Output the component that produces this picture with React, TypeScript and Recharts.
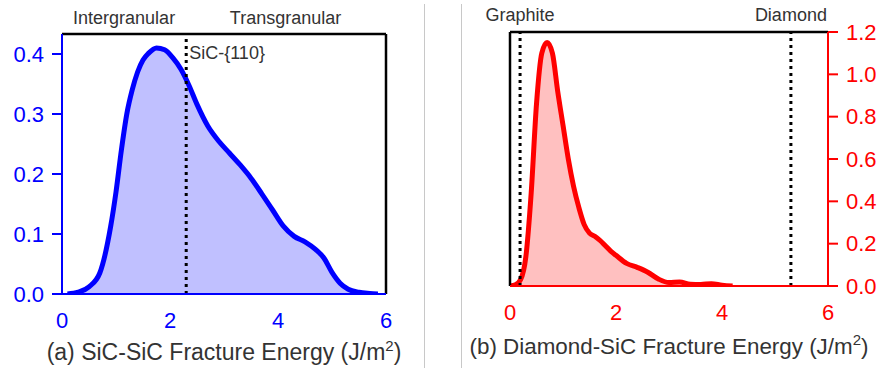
import React from 'react';
import { ComposedChart, Area, XAxis, YAxis, ReferenceLine, Label } from 'recharts';

// ---- Data: (a) SiC-SiC fracture energy density ----
const sicEnergy = [0.1, 0.3, 0.5, 0.7, 0.9, 1.0, 1.1, 1.2, 1.3, 1.4, 1.5, 1.6, 1.75, 1.9, 2.05, 2.2, 2.35, 2.5, 2.7, 2.9, 3.1, 3.3, 3.5, 3.7, 3.9, 4.1, 4.3, 4.5, 4.7, 4.85, 5.0, 5.15, 5.3, 5.5, 5.7, 5.85];
const sicDensity = [0, 0.003, 0.012, 0.035, 0.112, 0.17, 0.24, 0.3, 0.34, 0.37, 0.39, 0.401, 0.41, 0.407, 0.394, 0.375, 0.348, 0.316, 0.28, 0.255, 0.235, 0.215, 0.193, 0.167, 0.14, 0.113, 0.096, 0.087, 0.074, 0.06, 0.036, 0.018, 0.008, 0.003, 0.001, 0];

// ---- Data: (b) Diamond-SiC fracture energy density ----
const diamondEnergy = [0, 0.1, 0.2, 0.3, 0.4, 0.5, 0.6, 0.7, 0.8, 0.9, 1.0, 1.1, 1.2, 1.3, 1.4, 1.5, 1.6, 1.7, 1.8, 1.9, 2.0, 2.2, 2.4, 2.6, 2.8, 3.0, 3.2, 3.4, 3.6, 3.8, 4.0, 4.2];
const diamondDensity = [0, 0.005, 0.03, 0.14, 0.44, 0.86, 1.1, 1.15, 1.1, 0.92, 0.76, 0.6, 0.47, 0.37, 0.29, 0.25, 0.235, 0.215, 0.19, 0.165, 0.145, 0.107, 0.088, 0.065, 0.033, 0.016, 0.019, 0.008, 0.007, 0.011, 0.004, 0];

const xTicks = [0, 2, 4, 6];
const sicYTicks = [0, 0.1, 0.2, 0.3, 0.4];
const diamondYTicks = [0, 0.2, 0.4, 0.6, 0.8, 1.0, 1.2];
const sicYMax = 0.4333;
const diamondYMax = 1.2;
const sicPlane = 2.3;
const graphiteEnergy = 0.19;
const diamondRefEnergy = 5.3;

const sicData = sicEnergy.map((x, i) => ({ x, y: sicDensity[i] }));
const diamondData = diamondEnergy.map((x, i) => ({ x, y: diamondDensity[i] }));

const BLUE = '#0000ff';
const RED = '#ff0000';
const TXT = '#333333';
const FONT = '"Liberation Sans", Arial, Helvetica, sans-serif';

const tickStyle = (c: string) => ({ fill: c, fontSize: 22, fontFamily: FONT });

const makeTitle = (prefix: string, dyBase: number, size: number) => (props: any) => {
  const vb = props.viewBox || {};
  const cx = vb.x + vb.width / 2;
  const y = vb.y + dyBase;
  return (
    <text x={cx} y={y} textAnchor="middle" fill={TXT} fontSize={size} fontFamily={FONT}>
      {prefix + ' Fracture Energy (J/m'}
      <tspan dy={-9} fontSize={15}>2</tspan>
      <tspan dy={9}>)</tspan>
    </text>
  );
};

const TitleA = makeTitle('(a) SiC-SiC', 66, 23);
const TitleB = makeTitle('(b) Diamond-SiC', 68, 22.4);

const RegionLabels = (props: any) => {
  const vb = props.viewBox || {};
  const y = vb.y - 10;
  return (
    <g>
      <text x={vb.x + vb.width * (1.15 / 6)} y={y} textAnchor="middle" fill={TXT} fontSize={18} fontFamily={FONT}>Intergranular</text>
      <text x={vb.x + vb.width * (4.14 / 6)} y={y} textAnchor="middle" fill={TXT} fontSize={18} fontFamily={FONT}>Transgranular</text>
    </g>
  );
};

const PlaneLabel = (props: any) => {
  const vb = props.viewBox || {};
  return (
    <text x={vb.x + 3} y={vb.y + 25} textAnchor="start" fill={TXT} fontSize={18} fontFamily={FONT}>SiC-{'{110}'}</text>
  );
};

const makeTopLabel = (txt: string) => (props: any) => {
  const vb = props.viewBox || {};
  return (
    <text x={vb.x} y={vb.y - 11} textAnchor="middle" fill={TXT} fontSize={18} fontFamily={FONT}>{txt}</text>
  );
};
const GraphiteLabel = makeTopLabel('Graphite');
const DiamondLabel = makeTopLabel('Diamond');

export default function App() {
  return (
    <div style={{ position: 'absolute', left: 0, top: 0, width: 878, height: 368, background: '#fff', overflow: 'hidden' }}>
      <div style={{ position: 'absolute', left: 0, top: 0 }}>
        <ComposedChart width={440} height={368} data={sicData} margin={{ top: 34, right: 54, bottom: 0, left: 0 }}>
          <XAxis
            dataKey="x"
            type="number"
            domain={[0, 6]}
            ticks={xTicks}
            allowDataOverflow
            height={74}
            axisLine={{ stroke: BLUE, strokeWidth: 2 }}
            tickLine={false}
            tickSize={0}
            tickMargin={18}
            tick={tickStyle(BLUE)}
          >
            <Label content={TitleA} />
          </XAxis>
          <YAxis
            type="number"
            domain={[0, sicYMax]}
            ticks={sicYTicks}
            allowDataOverflow
            width={62}
            axisLine={{ stroke: BLUE, strokeWidth: 2 }}
            tickLine={{ stroke: BLUE, strokeWidth: 2 }}
            tickSize={10}
            tickMargin={8}
            tick={tickStyle(BLUE)}
            tickFormatter={(v: number) => v.toFixed(1)}
          />
          <Area
            dataKey="y"
            type="monotone"
            stroke={BLUE}
            strokeWidth={5}
            fill="#c0c0ff"
            fillOpacity={1}
            dot={false}
            activeDot={false}
            isAnimationActive={false}
          />
          <ReferenceLine x={6} stroke="#000" strokeWidth={2.5} />
          <ReferenceLine y={sicYMax} stroke="#000" strokeWidth={2.5}>
            <Label content={RegionLabels} />
          </ReferenceLine>
          <ReferenceLine x={sicPlane} stroke="#000" strokeWidth={3} strokeDasharray="3 4">
            <Label content={PlaneLabel} />
          </ReferenceLine>
        </ComposedChart>
      </div>
      <div style={{ position: 'absolute', left: 440, top: 0 }}>
        <ComposedChart width={438} height={368} data={diamondData} margin={{ top: 32, right: 0, bottom: 0, left: 70 }}>
          <XAxis
            dataKey="x"
            type="number"
            domain={[0, 6]}
            ticks={xTicks}
            allowDataOverflow
            height={82}
            axisLine={{ stroke: RED, strokeWidth: 2 }}
            tickLine={false}
            tickSize={0}
            tickMargin={18}
            tick={tickStyle(RED)}
          >
            <Label content={TitleB} />
          </XAxis>
          <YAxis
            orientation="right"
            type="number"
            domain={[0, diamondYMax]}
            ticks={diamondYTicks}
            allowDataOverflow
            width={50}
            axisLine={{ stroke: RED, strokeWidth: 2 }}
            tickLine={{ stroke: RED, strokeWidth: 2 }}
            tickSize={10}
            tickMargin={8}
            tick={tickStyle(RED)}
            tickFormatter={(v: number) => v.toFixed(1)}
          />
          <Area
            dataKey="y"
            type="monotone"
            stroke={RED}
            strokeWidth={5}
            fill="#ffc0c0"
            fillOpacity={1}
            dot={false}
            activeDot={false}
            isAnimationActive={false}
          />
          <ReferenceLine x={0} stroke="#000" strokeWidth={2.5} />
          <ReferenceLine y={diamondYMax} stroke="#000" strokeWidth={2.5} />
          <ReferenceLine x={graphiteEnergy} stroke="#000" strokeWidth={3} strokeDasharray="3 4">
            <Label content={GraphiteLabel} />
          </ReferenceLine>
          <ReferenceLine x={diamondRefEnergy} stroke="#000" strokeWidth={3} strokeDasharray="3 4">
            <Label content={DiamondLabel} />
          </ReferenceLine>
        </ComposedChart>
      </div>
      <div style={{ position: 'absolute', left: 424, top: 4, width: 1, height: 364, background: '#c8c8c8' }} />
      <div style={{ position: 'absolute', left: 461, top: 4, width: 1, height: 364, background: '#c8c8c8' }} />
    </div>
  );
}
